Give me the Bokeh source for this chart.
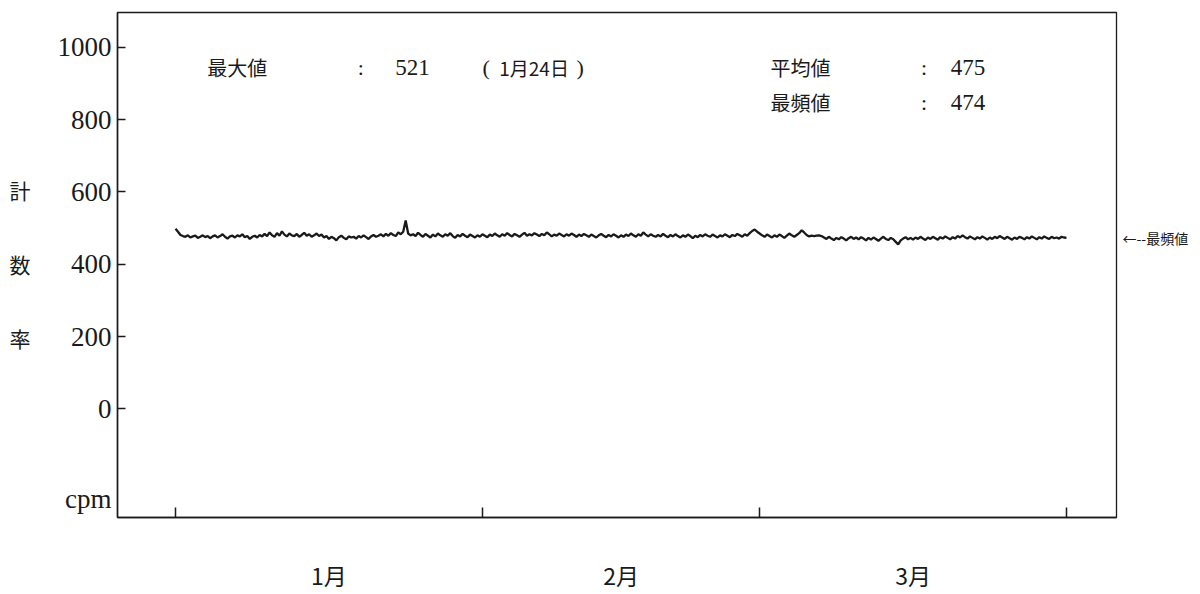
import numpy as np
from bokeh.plotting import figure
from bokeh.models import FixedTicker, Label, Range1d, LinearAxis
from bokeh.embed import file_html
from bokeh.resources import INLINE

# count rate (cpm), 4 readings per day from Jan 1 to Mar 31
counts = [
    498, 490, 481, 478, 476, 480, 474, 477, 479, 473, 476, 480,
    475, 478, 472, 477, 480, 474, 478, 483, 476, 471, 477, 479,
    474, 480, 477, 483, 475, 478, 470, 476, 479, 474, 481, 477,
    484, 478, 488, 480, 476, 486, 479, 491, 482, 477, 485, 480,
    478, 484, 476, 481, 487, 479, 483, 476, 480, 485, 478, 482,
    474, 478, 470, 476, 472, 466, 475, 479, 473, 469, 477, 474,
    476, 471, 478, 474, 480, 475, 470, 477, 481, 476, 479, 483,
    477, 484, 479, 486, 481, 478, 488, 483, 490, 521, 485, 480,
    483, 478, 487, 481, 476, 484, 479, 474, 482, 477, 485, 480,
    476, 483, 479, 486, 478, 473, 481, 477, 484, 479, 475, 482,
    478, 474, 480, 476, 483, 479, 475, 482, 478, 485, 480, 476,
    483, 479, 486, 481, 477, 484, 480, 476, 482, 487, 479, 483,
    480, 486, 482, 478, 484, 480, 488, 483, 477, 482, 479, 485,
    481, 477, 483, 479, 485, 481, 476, 482, 478, 484, 480, 476,
    482, 478, 474, 480, 484, 479, 475, 481, 477, 483, 479, 474,
    480, 476, 482, 478, 485, 480, 476, 483, 479, 488, 482, 477,
    483, 479, 476, 481, 477, 484, 479, 475, 481, 477, 483, 478,
    474, 480, 476, 482, 478, 472, 479, 475, 481, 477, 483, 479,
    476, 482, 478, 474, 480, 477, 483, 479, 475, 481, 478, 484,
    480, 476, 483, 479, 486, 492, 496, 490, 485, 480, 476, 482,
    478, 474, 480, 476, 482, 478, 473, 479, 485, 480, 476, 481,
    486, 494, 488, 481, 477, 479, 478, 479, 480, 478, 474, 470,
    476, 471, 467, 473, 469, 475, 471, 466, 472, 476, 470, 474,
    469, 475, 471, 466, 473, 468, 474, 470, 465, 471, 476, 470,
    467, 473, 469, 462, 455, 466, 471, 475, 469, 473, 468, 474,
    470, 476, 471, 467, 474, 470, 476, 472, 468, 475, 471, 477,
    473, 469, 475, 471, 478, 474, 480, 475, 471, 477, 473, 469,
    475, 471, 477, 473, 468, 474, 470, 476, 472, 478, 474, 470,
    476, 472, 468, 474, 470, 476, 473, 469, 475, 471, 477, 473,
    469, 475, 471, 477, 473, 470, 476, 472, 474, 471, 476, 474,
    473,
]
samples_per_day = 4
month_labels = ["1月", "2月", "3月"]
month_starts = [0, 31, 59, 90]          # day index of Jan 1, Feb 1, Mar 1, Apr 1
y_ticks = [0, 200, 400, 600, 800, 1000]
unit_label, unit_pos = "cpm", -250
title_chars = ["計", "数", "率"]
title_pos = [605, 400, 195]
max_value, max_date = 521, "1月24日"
mean_value = 475
mode_value = 474

days = np.arange(len(counts)) / samples_per_day
month_centers = [(a + b) / 2 for a, b in zip(month_starts[:-1], month_starts[1:])]

JP = "Noto Sans CJK JP"
SERIF = "Liberation Serif"
INK = "#1a1a1a"

p = figure(width=1200, height=594, output_backend="svg", toolbar_location=None,
           x_range=Range1d(-5.86, 95.05), y_range=Range1d(-300, 1096),
           min_border_left=117, min_border_right=84, min_border_top=12, min_border_bottom=75)
p.background_fill_color = "white"
p.border_fill_color = "white"
p.xgrid.visible = False
p.ygrid.visible = False
p.outline_line_color = INK
p.outline_line_width = 1.3

# main y axis: tick marks (minor) at the values, labels incl. the unit
p.yaxis.ticker = FixedTicker(ticks=[unit_pos] + y_ticks, minor_ticks=y_ticks)
p.yaxis.major_label_overrides = {unit_pos: unit_label}
p.yaxis.major_tick_in = 0
p.yaxis.major_tick_out = 0
p.yaxis.minor_tick_in = 8
p.yaxis.minor_tick_out = 0
p.yaxis.minor_tick_line_color = INK
p.yaxis.minor_tick_line_width = 1.5
p.yaxis.axis_line_color = INK
p.yaxis.axis_line_width = 1.5
p.yaxis.major_label_text_font = SERIF
p.yaxis.major_label_text_font_size = "27px"
p.yaxis.major_label_text_color = INK
p.yaxis.major_label_standoff = 6

# outer left axis: stacked title characters
title_axis = LinearAxis(ticker=FixedTicker(ticks=title_pos, minor_ticks=[]),
                        major_label_overrides={v: c for v, c in zip(title_pos, title_chars)},
                        axis_line_color=None, major_tick_line_color=None,
                        major_label_text_font=JP, major_label_text_font_size="21px",
                        major_label_text_color=INK, major_label_standoff=18)
p.add_layout(title_axis, "left")

# right axis: mode marker
mode_axis = LinearAxis(ticker=FixedTicker(ticks=[mode_value], minor_ticks=[]),
                       major_label_overrides={mode_value: "←--最頻値"},
                       axis_line_color=None, major_tick_line_color=None,
                       major_label_text_font=JP, major_label_text_font_size="14px",
                       major_label_text_color=INK, major_label_standoff=0)
p.add_layout(mode_axis, "right")

# x axis: month boundaries as tick marks, month names in between
p.xaxis.ticker = FixedTicker(ticks=month_centers, minor_ticks=month_starts)
p.xaxis.major_label_overrides = {c: m for c, m in zip(month_centers, month_labels)}
p.xaxis.major_tick_in = 0
p.xaxis.major_tick_out = 0
p.xaxis.minor_tick_in = 10
p.xaxis.minor_tick_out = 0
p.xaxis.minor_tick_line_color = INK
p.xaxis.minor_tick_line_width = 1.5
p.xaxis.axis_line_color = INK
p.xaxis.axis_line_width = 1.5
p.xaxis.major_label_text_font = JP
p.xaxis.major_label_text_font_size = "23px"
p.xaxis.major_label_text_color = INK
p.xaxis.major_label_standoff = 40

p.line(days, counts, line_color=INK, line_width=2.3)

def lab(x, y, text, font=JP, size="20px", align="left"):
    p.add_layout(Label(x=x, y=y, text=text, text_font=font, text_font_size=size,
                       text_color=INK, text_align=align, text_baseline="middle"))

# statistics
lab(3.2, 945, "最大値")
lab(18.4, 945, ":", font=SERIF, size="22px")
lab(22.2, 945, str(max_value), font=SERIF, size="23px")
lab(31.0, 945, "(", font=SERIF, size="22px")
lab(32.7, 945, max_date, size="19px")
lab(40.5, 945, ")", font=SERIF, size="22px")
lab(60.1, 945, "平均値")
lab(75.3, 945, ":", font=SERIF, size="22px")
lab(78.3, 945, str(mean_value), font=SERIF, size="23px")
lab(60.1, 848, "最頻値")
lab(75.3, 848, ":", font=SERIF, size="22px")
lab(78.3, 848, str(mode_value), font=SERIF, size="23px")

open("out.html", "w").write(file_html(p, INLINE))
